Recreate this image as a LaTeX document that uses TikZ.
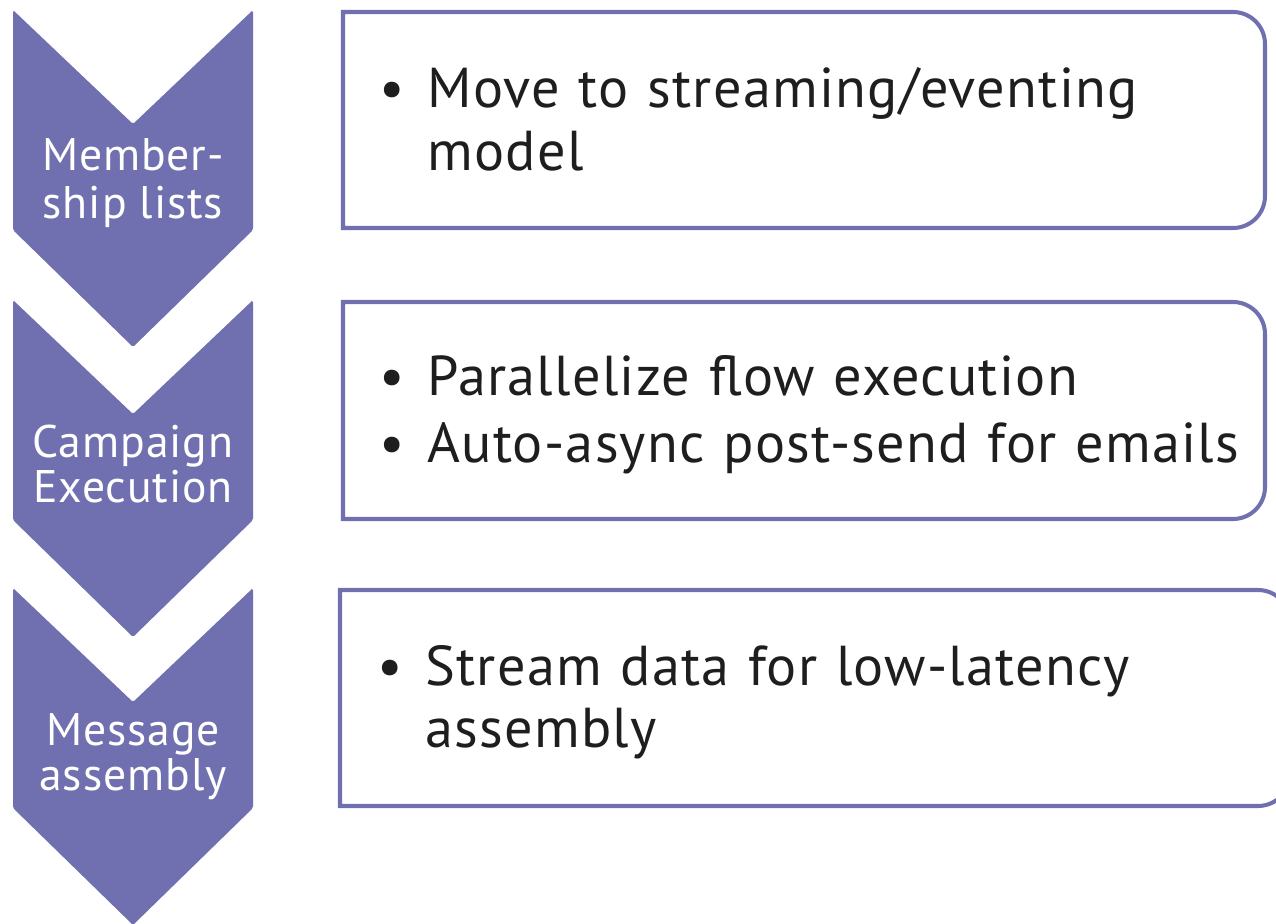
\documentclass[tikz,border=0pt]{standalone}
\usepackage{fontspec}
\setmainfont{PT Sans}
\usetikzlibrary{positioning}
\definecolor{chevfill}{HTML}{7070B0}
\definecolor{bodytext}{HTML}{1E1E1E}
\newfontfamily\itemfont[LetterSpace=2.3, WordSpace=1.15]{PT Sans}
\newfontfamily\chevfont[LetterSpace=2.0]{PT Sans}
\tikzset{
  chevlabel/.style={text=white, font=\chevfont\fontsize{26}{30}\selectfont, anchor=base, inner sep=0pt},
  boxline/.style={line width=2.3pt, draw=chevfill, fill=white},
  itemtext/.style={text=bodytext, font=\itemfont\fontsize{32}{36}\selectfont, anchor=base west, inner sep=0pt},
}

\begin{document}
\begin{tikzpicture}[x=0.02cm, y=-0.02cm]
  \useasboundingbox (0,0) rectangle (1276,924);

  % chevrons
  \foreach \t in {10, 300, 588} {
    \fill[chevfill, rounded corners=1pt] (13,\t) -- (133,\t+114) -- (253,\t) -- (253,\t+220)
      -- (133,\t+337) -- (13,\t+220) -- cycle;
  }
  \node[chevlabel] (memA) at (133,170) {Member-};
  \node[chevlabel] (memB) at (133,218) {ship lists};
  \node[chevlabel] (camA) at (133,457) {Campaign};
  \node[chevlabel] (camB) at (133,502) {Execution};
  \node[chevlabel] (msgA) at (133,745) {Message};
  \node[chevlabel] (msgB) at (133,790) {assembly};

  % boxes
  \draw[boxline] (343,12) -- (1233,12) arc[start angle=90, end angle=0, radius=0.64cm]
    -- (1265,196) arc[start angle=0, end angle=-90, radius=0.64cm] -- (343,228) -- cycle;
  \draw[boxline] (343,302) -- (1233,302) arc[start angle=90, end angle=0, radius=0.64cm]
    -- (1265,487) arc[start angle=0, end angle=-90, radius=0.64cm] -- (343,519) -- cycle;
  \draw[boxline] (340,590) -- (1258,590) arc[start angle=90, end angle=0, radius=0.64cm]
    -- (1290,774) arc[start angle=0, end angle=-90, radius=0.64cm] -- (340,806) -- cycle;

  % bullet text
  \node[itemtext] (bulA) at (379,107) {\textbullet};
  \node[itemtext] (txtA1) at (427,107) {Move to streaming/eventing};
  \node[itemtext] (txtA2) at (427,170) {model};
  \node[itemtext] (bulB1) at (379,395) {\textbullet};
  \node[itemtext] (txtB1) at (427,395) {Parallelize flow execution};
  \node[itemtext] (bulB2) at (379,462) {\textbullet};
  \node[itemtext] (txtB2) at (427,462) {Auto-async post-send for emails};
  \node[itemtext] (bulC) at (377,685) {\textbullet};
  \node[itemtext] (txtC1) at (425,685) {Stream data for low-latency};
  \node[itemtext] (txtC2) at (425,747) {assembly};
\end{tikzpicture}
\end{document}
